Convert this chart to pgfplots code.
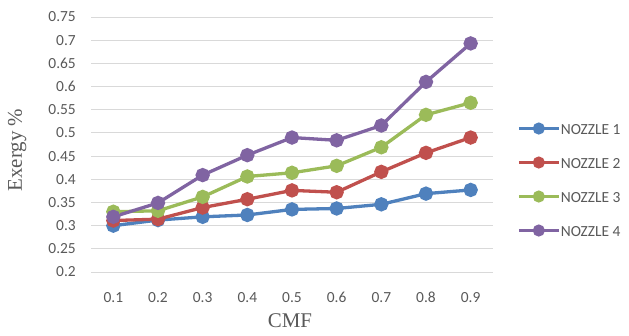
\documentclass[border=0pt]{standalone}
\usepackage{pgfplots}
\pgfplotsset{compat=1.18}
\usepackage{fontspec}
\setmainfont{Carlito}
\newfontfamily\seriffont{Liberation Serif}

\definecolor{nzA}{HTML}{4F81BD}
\definecolor{nzB}{HTML}{C0504D}
\definecolor{nzC}{HTML}{9BBB59}
\definecolor{nzD}{HTML}{8064A2}
\definecolor{txtgray}{HTML}{595959}
\definecolor{gridgray}{HTML}{D9D9D9}

\begin{document}
\begin{tikzpicture}
\useasboundingbox (0,0) rectangle (629bp,336bp);
\begin{axis}[
  at={(91bp,64bp)}, anchor=south west,
  scale only axis,
  width=402bp, height=255bp,
  xmin=0.5, xmax=9.5,
  ymin=0.2, ymax=0.75,
  xtick={1,...,9},
  xticklabels={0.1,0.2,0.3,0.4,0.5,0.6,0.7,0.8,0.9},
  ytick={0.2,0.25,...,0.76},
  yticklabels={0.2,0.25,0.3,0.35,0.4,0.45,0.5,0.55,0.6,0.65,0.7,0.75},
  axis line style={draw=none},
  major tick length=0pt,
  ymajorgrids,
  grid style={gridgray, line width=0.9bp},
  tick label style={font=\fontsize{15.5}{17}\selectfont, text=txtgray, inner sep=0pt},
  /pgf/number format/assume math mode=true,
  xticklabel style={anchor=base, yshift=-30bp},
  yticklabel style={anchor=east, xshift=-15bp},
  xlabel={CMF},
  ylabel={Exergy \%},
  every axis x label/.style={at={([xshift=-2bp,yshift=-55bp]rel axis cs:0.5,0)},
    anchor=base, inner sep=0pt, text=txtgray,
    font=\seriffont\fontsize{21}{23}\selectfont},
  every axis y label/.style={at={([xshift=-69bp,yshift=-5.5bp]rel axis cs:0,0.5)},
    rotate=90, anchor=base, inner sep=0pt, text=txtgray,
    font=\seriffont\fontsize{21}{23}\selectfont},
  legend cell align=left,
  legend style={draw=none, fill=none,
    at={(rel axis cs:1.06,0.3627)}, anchor=west,
    font=\fontsize{15.5}{17}\selectfont, text=txtgray,
    row sep=22bp, inner sep=0pt,
    nodes={inner sep=0.5bp, text height=11bp, text depth=0bp}},
  legend image code/.code={%
    \draw[mark repeat=2, mark phase=2, line width=3bp, mark size=4.5bp, #1]
      plot coordinates {(0bp,0bp) (20bp,0bp) (40bp,0bp)};},
  every axis plot/.append style={line width=3.3bp, mark=*, mark size=5.5bp},
]
\addplot[nzA, mark options={fill=nzA, draw=nzA}] coordinates {
  (1,0.300) (2,0.312) (3,0.319) (4,0.323) (5,0.335)
  (6,0.337) (7,0.346) (8,0.369) (9,0.377)};
\addlegendentry{NOZZLE 1}
\addplot[nzB, mark options={fill=nzB, draw=nzB}] coordinates {
  (1,0.311) (2,0.314) (3,0.339) (4,0.357) (5,0.376)
  (6,0.372) (7,0.416) (8,0.457) (9,0.490)};
\addlegendentry{NOZZLE 2}
\addplot[nzC, mark options={fill=nzC, draw=nzC}] coordinates {
  (1,0.330) (2,0.332) (3,0.362) (4,0.406) (5,0.414)
  (6,0.429) (7,0.469) (8,0.539) (9,0.565)};
\addlegendentry{NOZZLE 3}
\addplot[nzD, mark options={fill=nzD, draw=nzD}] coordinates {
  (1,0.319) (2,0.349) (3,0.409) (4,0.452) (5,0.490)
  (6,0.484) (7,0.516) (8,0.610) (9,0.693)};
\addlegendentry{NOZZLE 4}
\end{axis}
\end{tikzpicture}
\end{document}
